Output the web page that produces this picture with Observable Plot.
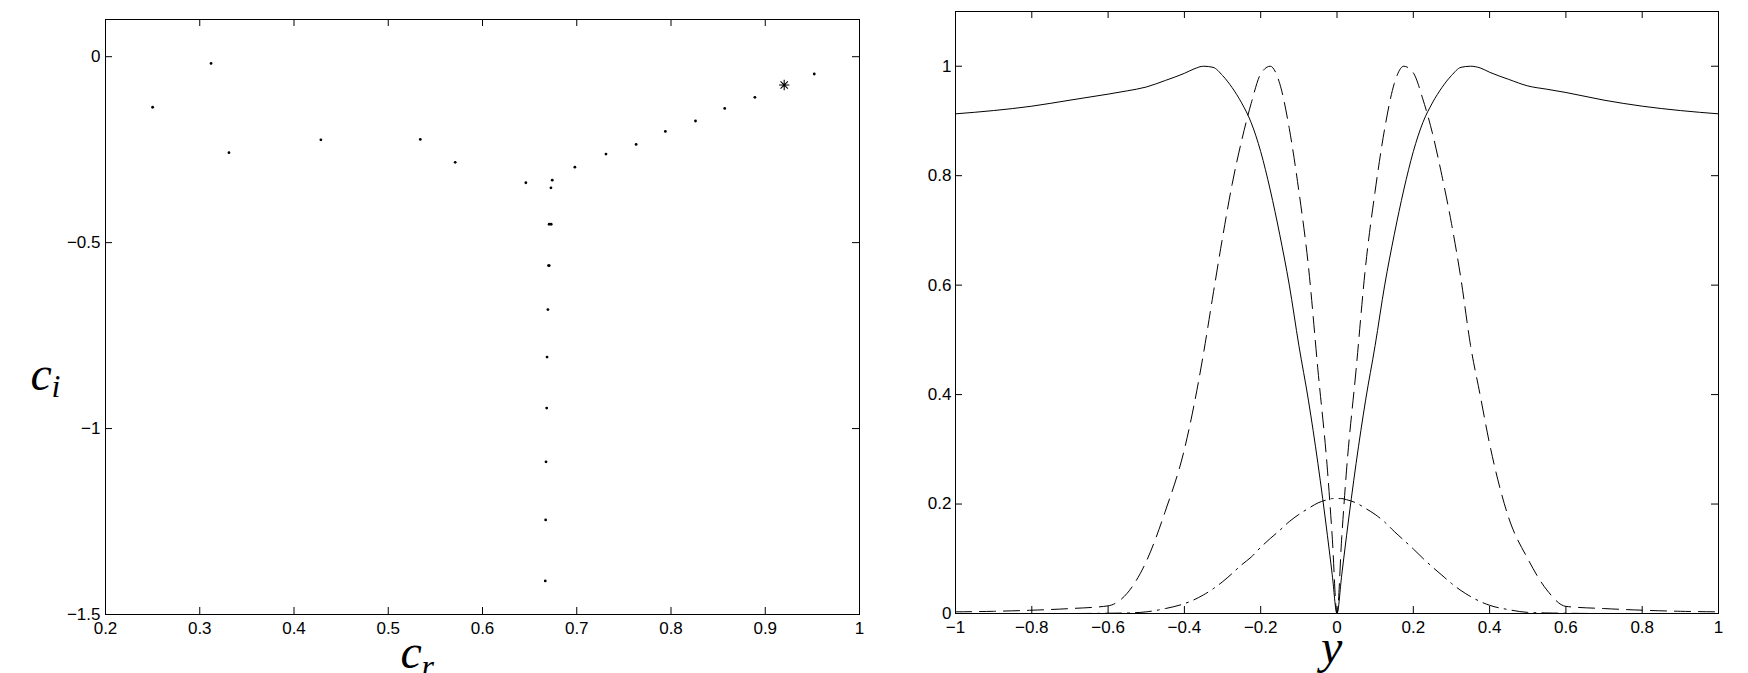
<!DOCTYPE html>
<html><head><meta charset="utf-8">
<script src="https://cdn.jsdelivr.net/npm/d3@7"></script>
<script src="https://cdn.jsdelivr.net/npm/@observablehq/plot@0.6"></script>
<style>
html,body{margin:0;padding:0;background:#fff;}
#wrap{display:flex;width:1748px;height:673px;overflow:hidden;}
</style></head><body><div id="wrap"></div>
<script>
// ---- Left panel: eigenvalue spectrum (c_r, c_i) ----
const crValues = [0.250, 0.312, 0.331, 0.4285, 0.534, 0.571, 0.646, 0.674, 0.6726, 0.698, 0.731, 0.763, 0.794, 0.826, 0.857, 0.889, 0.952,
                  0.6729, 0.6707, 0.6708, 0.6700, 0.6694, 0.6685, 0.6681, 0.6674, 0.6670, 0.6666];
const ciValues = [-0.136, -0.018, -0.258, -0.2235, -0.2225, -0.284, -0.339, -0.332, -0.3527, -0.297, -0.262, -0.236, -0.201, -0.173, -0.139, -0.1094, -0.0466,
                  -0.4506, -0.4506, -0.5617, -0.5617, -0.680, -0.8078, -0.945, -1.0894, -1.2456, -1.4098];
const starCr = [0.9201];
const starCi = [-0.0762];
const leftXTicks = [0.2, 0.3, 0.4, 0.5, 0.6, 0.7, 0.8, 0.9, 1];
const leftYTicks = [-1.5, -1, -0.5, 0];

// ---- Right panel: eigenfunction profiles vs y ----
const yCoord = [-1, -0.9, -0.8, -0.7, -0.6, -0.55, -0.5, -0.45, -0.4, -0.375, -0.35, -0.325, -0.3, -0.275, -0.25, -0.225, -0.2, -0.175, -0.15, -0.125, -0.1, -0.075, -0.05, -0.025, -0.0125, 0,
                0.0125, 0.025, 0.05, 0.075, 0.1, 0.125, 0.15, 0.175, 0.2, 0.225, 0.25, 0.275, 0.3, 0.325, 0.35, 0.375, 0.4, 0.45, 0.5, 0.55, 0.6, 0.7, 0.8, 0.9, 1];
const solidCurve = [0.913, 0.919, 0.927, 0.938, 0.949, 0.955, 0.962, 0.974, 0.987, 0.995, 1.000, 0.998, 0.983, 0.961, 0.933, 0.897, 0.844, 0.774, 0.692, 0.600, 0.490, 0.390, 0.274, 0.142, 0.071, 0,
                    0.071, 0.142, 0.274, 0.390, 0.490, 0.600, 0.692, 0.774, 0.844, 0.897, 0.933, 0.961, 0.983, 0.998, 1.000, 0.997, 0.989, 0.976, 0.964, 0.958, 0.952, 0.938, 0.927, 0.919, 0.913];
const dashedCurve = [0.003, 0.004, 0.006, 0.009, 0.014, 0.037, 0.095, 0.187, 0.300, 0.380, 0.475, 0.582, 0.687, 0.784, 0.864, 0.932, 0.986, 1.000, 0.968, 0.886, 0.772, 0.635, 0.445, 0.262, 0.140, 0,
                     0.140, 0.262, 0.445, 0.635, 0.772, 0.886, 0.968, 1.000, 0.988, 0.940, 0.878, 0.800, 0.713, 0.611, 0.490, 0.400, 0.310, 0.175, 0.100, 0.043, 0.013, 0.009, 0.006, 0.004, 0.003];
const dashDotCurve = [0, 0, 0, 0, 0.0005, 0.001, 0.003, 0.009, 0.018, 0.025, 0.034, 0.045, 0.058, 0.073, 0.089, 0.103, 0.121, 0.137, 0.152, 0.168, 0.181, 0.192, 0.202, 0.208, 0.210, 0.210,
                      0.210, 0.208, 0.202, 0.192, 0.181, 0.167, 0.150, 0.134, 0.118, 0.101, 0.085, 0.070, 0.055, 0.042, 0.031, 0.022, 0.015, 0.007, 0.002, 0.001, 0.0005, 0, 0, 0, 0];
const rightXTicks = [-1, -0.8, -0.6, -0.4, -0.2, 0, 0.2, 0.4, 0.6, 0.8, 1];
const rightYTicks = [0, 0.2, 0.4, 0.6, 0.8, 1];

// ---- helpers ----
const fmt = d => (d < 0 ? "\u2212" + Math.abs(d) : String(d));
const tickFont = "'Liberation Sans', Arial, Helvetica, sans-serif";
const mathFont = "'Liberation Serif', 'Times New Roman', serif";
const W = 874, H = 673, TICK = 7;
const LM = {left: 105, right: 15, top: 19, bottom: 59};
const RM = {left: 81, right: 30, top: 11, bottom: 60};
const plotStyle = {fontFamily: tickFont, fontSize: "17px", color: "black", background: "white"};

function innerTicks(xt, yt, m) {
  const ih = H - m.top - m.bottom, iw = W - m.left - m.right;
  return [
    Plot.tickX(xt, {x: d => d, insetTop: ih - TICK, stroke: "black", strokeWidth: 1}),
    Plot.tickX(xt, {x: d => d, insetBottom: ih - TICK, stroke: "black", strokeWidth: 1}),
    Plot.tickY(yt, {y: d => d, insetRight: iw - TICK, stroke: "black", strokeWidth: 1}),
    Plot.tickY(yt, {y: d => d, insetLeft: iw - TICK, stroke: "black", strokeWidth: 1})
  ];
}
function axes(xt, yt, ypad) {
  return [
    Plot.axisX(xt, {tickSize: 0, tickPadding: 7, tickFormat: fmt, label: null, fontSize: 17, fontFamily: tickFont}),
    Plot.axisY(yt, {tickSize: 0, tickPadding: ypad, tickFormat: fmt, label: null, fontSize: 17, fontFamily: tickFont})
  ];
}
function mathText(s, opts) {
  return Plot.text([s], {text: d => d, textAnchor: "start", lineAnchor: "bottom", fontStyle: "italic", fontFamily: mathFont, fill: "black", ...opts});
}

// custom 8-arm asterisk marker
const asterisk8 = {
  draw(context, size) {
    const r = Math.sqrt(size / Math.PI);
    for (let k = 0; k < 4; k++) {
      const a = k * Math.PI / 4, c = Math.cos(a) * r, s = Math.sin(a) * r;
      context.moveTo(c, s);
      context.lineTo(-c, -s);
    }
  }
};

const spectrum = crValues.map((cr, i) => ({cr, ci: ciValues[i]}));
const star = starCr.map((cr, i) => ({cr, ci: starCi[i]}));

const left = Plot.plot({
  width: W, height: H,
  marginLeft: LM.left, marginRight: LM.right, marginTop: LM.top, marginBottom: LM.bottom,
  style: plotStyle,
  x: {domain: [0.2, 1]},
  y: {domain: [-1.5, 0.1]},
  marks: [
    ...axes(leftXTicks, leftYTicks, 5),
    ...innerTicks(leftXTicks, leftYTicks, LM),
    Plot.frame({stroke: "black", strokeWidth: 1}),
    Plot.dot(spectrum, {x: "cr", y: "ci", r: 1.4, fill: "black", stroke: null}),
    Plot.dot(star, {x: "cr", y: "ci", r: 5.2, symbol: asterisk8, stroke: "black", strokeWidth: 1.1, fill: "none"}),
    mathText("c", {frameAnchor: "left", dx: -75, dy: 72.5, fontSize: 48}),
    mathText("i", {frameAnchor: "left", dx: -54, dy: 80, fontSize: 32}),
    mathText("c", {frameAnchor: "bottom", dx: -82, dy: 53, fontSize: 48}),
    mathText("r", {frameAnchor: "bottom", dx: -61, dy: 62, fontSize: 32})
  ]
});

const rows = yCoord.map((y, i) => ({y, s: solidCurve[i], d: dashedCurve[i], dd: dashDotCurve[i]}));

const right = Plot.plot({
  width: W, height: H,
  marginLeft: RM.left, marginRight: RM.right, marginTop: RM.top, marginBottom: RM.bottom,
  style: plotStyle,
  x: {domain: [-1, 1]},
  y: {domain: [0, 1.1]},
  marks: [
    ...axes(rightXTicks, rightYTicks, 4),
    ...innerTicks(rightXTicks, rightYTicks, RM),
    Plot.line(rows, {x: "y", y: "s", stroke: "black", strokeWidth: 1, curve: "monotone-x"}),
    Plot.line(rows, {x: "y", y: "d", stroke: "black", strokeWidth: 1, strokeDasharray: "16,8", curve: "monotone-x"}),
    Plot.line(rows, {x: "y", y: "dd", stroke: "black", strokeWidth: 1, strokeDasharray: "16,6,2,6", curve: "monotone-x"}),
    Plot.frame({stroke: "black", strokeWidth: 1}),
    mathText("y", {frameAnchor: "bottom", dx: -16, dy: 49, fontSize: 48})
  ]
});

const wrap = document.getElementById("wrap");
wrap.appendChild(left);
wrap.appendChild(right);
</script>
</body></html>
